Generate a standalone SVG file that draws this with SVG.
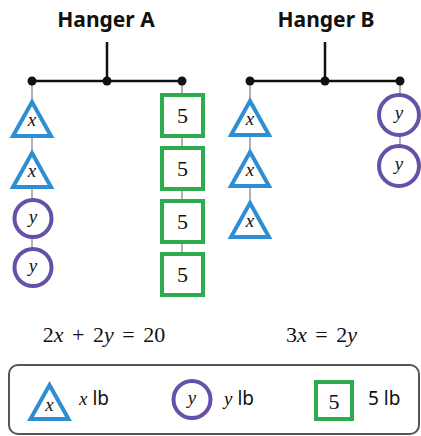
<svg xmlns="http://www.w3.org/2000/svg" xmlns:xlink="http://www.w3.org/1999/xlink" width="421" height="436" viewBox="0 0 421 436">
<style>
.title{font-family:"Noto Sans","Liberation Sans",sans-serif;font-weight:bold;font-size:21px;fill:#111;text-anchor:middle}
.math{font-family:"Liberation Serif","DejaVu Serif",serif;font-size:22px;fill:#111;word-spacing:3px}
.lbl{font-family:"Liberation Serif","DejaVu Serif",serif;font-style:italic;font-size:19px;fill:#111;text-anchor:middle}
.num{font-family:"Liberation Serif","DejaVu Serif",serif;font-size:22px;fill:#111;text-anchor:middle}
.it{font-style:italic}
.sans{font-family:"Noto Sans","Liberation Sans",sans-serif;font-size:19px;fill:#111}
.tri{fill:#fff;stroke:#2f8ed1;stroke-width:4;stroke-linejoin:miter}
.circ{fill:#fff;stroke:#6650a8;stroke-width:4}
.sq{fill:#fff;stroke:#2eaa4f;stroke-width:4}
.bar{stroke:#111;stroke-width:2.5;fill:none}
.link{stroke:#999;stroke-width:1.5;fill:none}
.dot{fill:#111}
</style>
<defs>
<path id="triShape" d="M0,0 L19,34 L-19,34 Z"/>
</defs>

<text class="title" x="106" y="27">Hanger A</text>
<text class="title" x="326" y="27">Hanger B</text>

<g id="connectors">
<path class="bar" d="M107,42 V81 M32,81 H182"/>
<path class="bar" d="M325,42 V81 M250,81 H400"/>
<path class="link" d="M32,81 V267 M182,81 V275 M250,81 V225 M400,81 V166"/>
<circle class="dot" cx="32" cy="81" r="4.5"/>
<circle class="dot" cx="107" cy="81" r="4.5"/>
<circle class="dot" cx="182" cy="81" r="4.5"/>
<circle class="dot" cx="250" cy="81" r="4.5"/>
<circle class="dot" cx="325" cy="81" r="4.5"/>
<circle class="dot" cx="400" cy="81" r="4.5"/>
</g>

<g id="a-x1"><use xlink:href="#triShape" class="tri" x="32" y="102"/><text class="lbl" x="32" y="126">x</text></g>
<g id="a-x2"><use xlink:href="#triShape" class="tri" x="32" y="153"/><text class="lbl" x="32" y="177">x</text></g>
<g id="a-y1"><circle class="circ" cx="33" cy="218.5" r="18.5"/><text class="lbl" x="33" y="223">y</text></g>
<g id="a-y2"><circle class="circ" cx="33" cy="267.5" r="18.5"/><text class="lbl" x="33" y="272">y</text></g>

<g id="a-s1"><rect class="sq" x="162" y="95" width="41" height="41"/><text class="num" x="182.5" y="123">5</text></g>
<g id="a-s2"><rect class="sq" x="162" y="148" width="41" height="41"/><text class="num" x="182.5" y="176">5</text></g>
<g id="a-s3"><rect class="sq" x="162" y="201" width="41" height="41"/><text class="num" x="182.5" y="229">5</text></g>
<g id="a-s4"><rect class="sq" x="162" y="254" width="41" height="41"/><text class="num" x="182.5" y="282">5</text></g>

<g id="b-x1"><use xlink:href="#triShape" class="tri" x="250" y="101"/><text class="lbl" x="250" y="125">x</text></g>
<g id="b-x2"><use xlink:href="#triShape" class="tri" x="250" y="152"/><text class="lbl" x="250" y="176">x</text></g>
<g id="b-x3"><use xlink:href="#triShape" class="tri" x="250" y="203"/><text class="lbl" x="250" y="227">x</text></g>

<g id="b-y1"><circle class="circ" cx="399" cy="115" r="20"/><text class="lbl" x="399" y="119">y</text></g>
<g id="b-y2"><circle class="circ" cx="399" cy="166" r="20"/><text class="lbl" x="399" y="170">y</text></g>

<text class="math" x="104" y="342" text-anchor="middle">2<tspan class="it">x</tspan> + 2<tspan class="it">y</tspan> = 20</text>
<text class="math" x="321.5" y="342" text-anchor="middle">3<tspan class="it">x</tspan> = 2<tspan class="it">y</tspan></text>

<g id="legend">
<rect x="9" y="365" width="410" height="69" rx="9" ry="9" fill="#fff" stroke="#555" stroke-width="2"/>
<g id="leg-x"><use xlink:href="#triShape" class="tri" x="49.5" y="385"/><text class="lbl" x="49.5" y="411">x</text>
<text class="sans" x="79" y="405"><tspan class="lbl" style="text-anchor:start">x</tspan> lb</text></g>
<g id="leg-y"><circle class="circ" cx="192" cy="399.5" r="18.5"/><text class="lbl" x="192" y="404">y</text>
<text class="sans" x="224" y="405"><tspan class="lbl" style="text-anchor:start">y</tspan> lb</text></g>
<g id="leg-5"><rect class="sq" x="316" y="382" width="36" height="37"/><text class="num" x="334" y="409">5</text>
<text class="sans" x="368" y="405">5 lb</text></g>
</g>
</svg>
